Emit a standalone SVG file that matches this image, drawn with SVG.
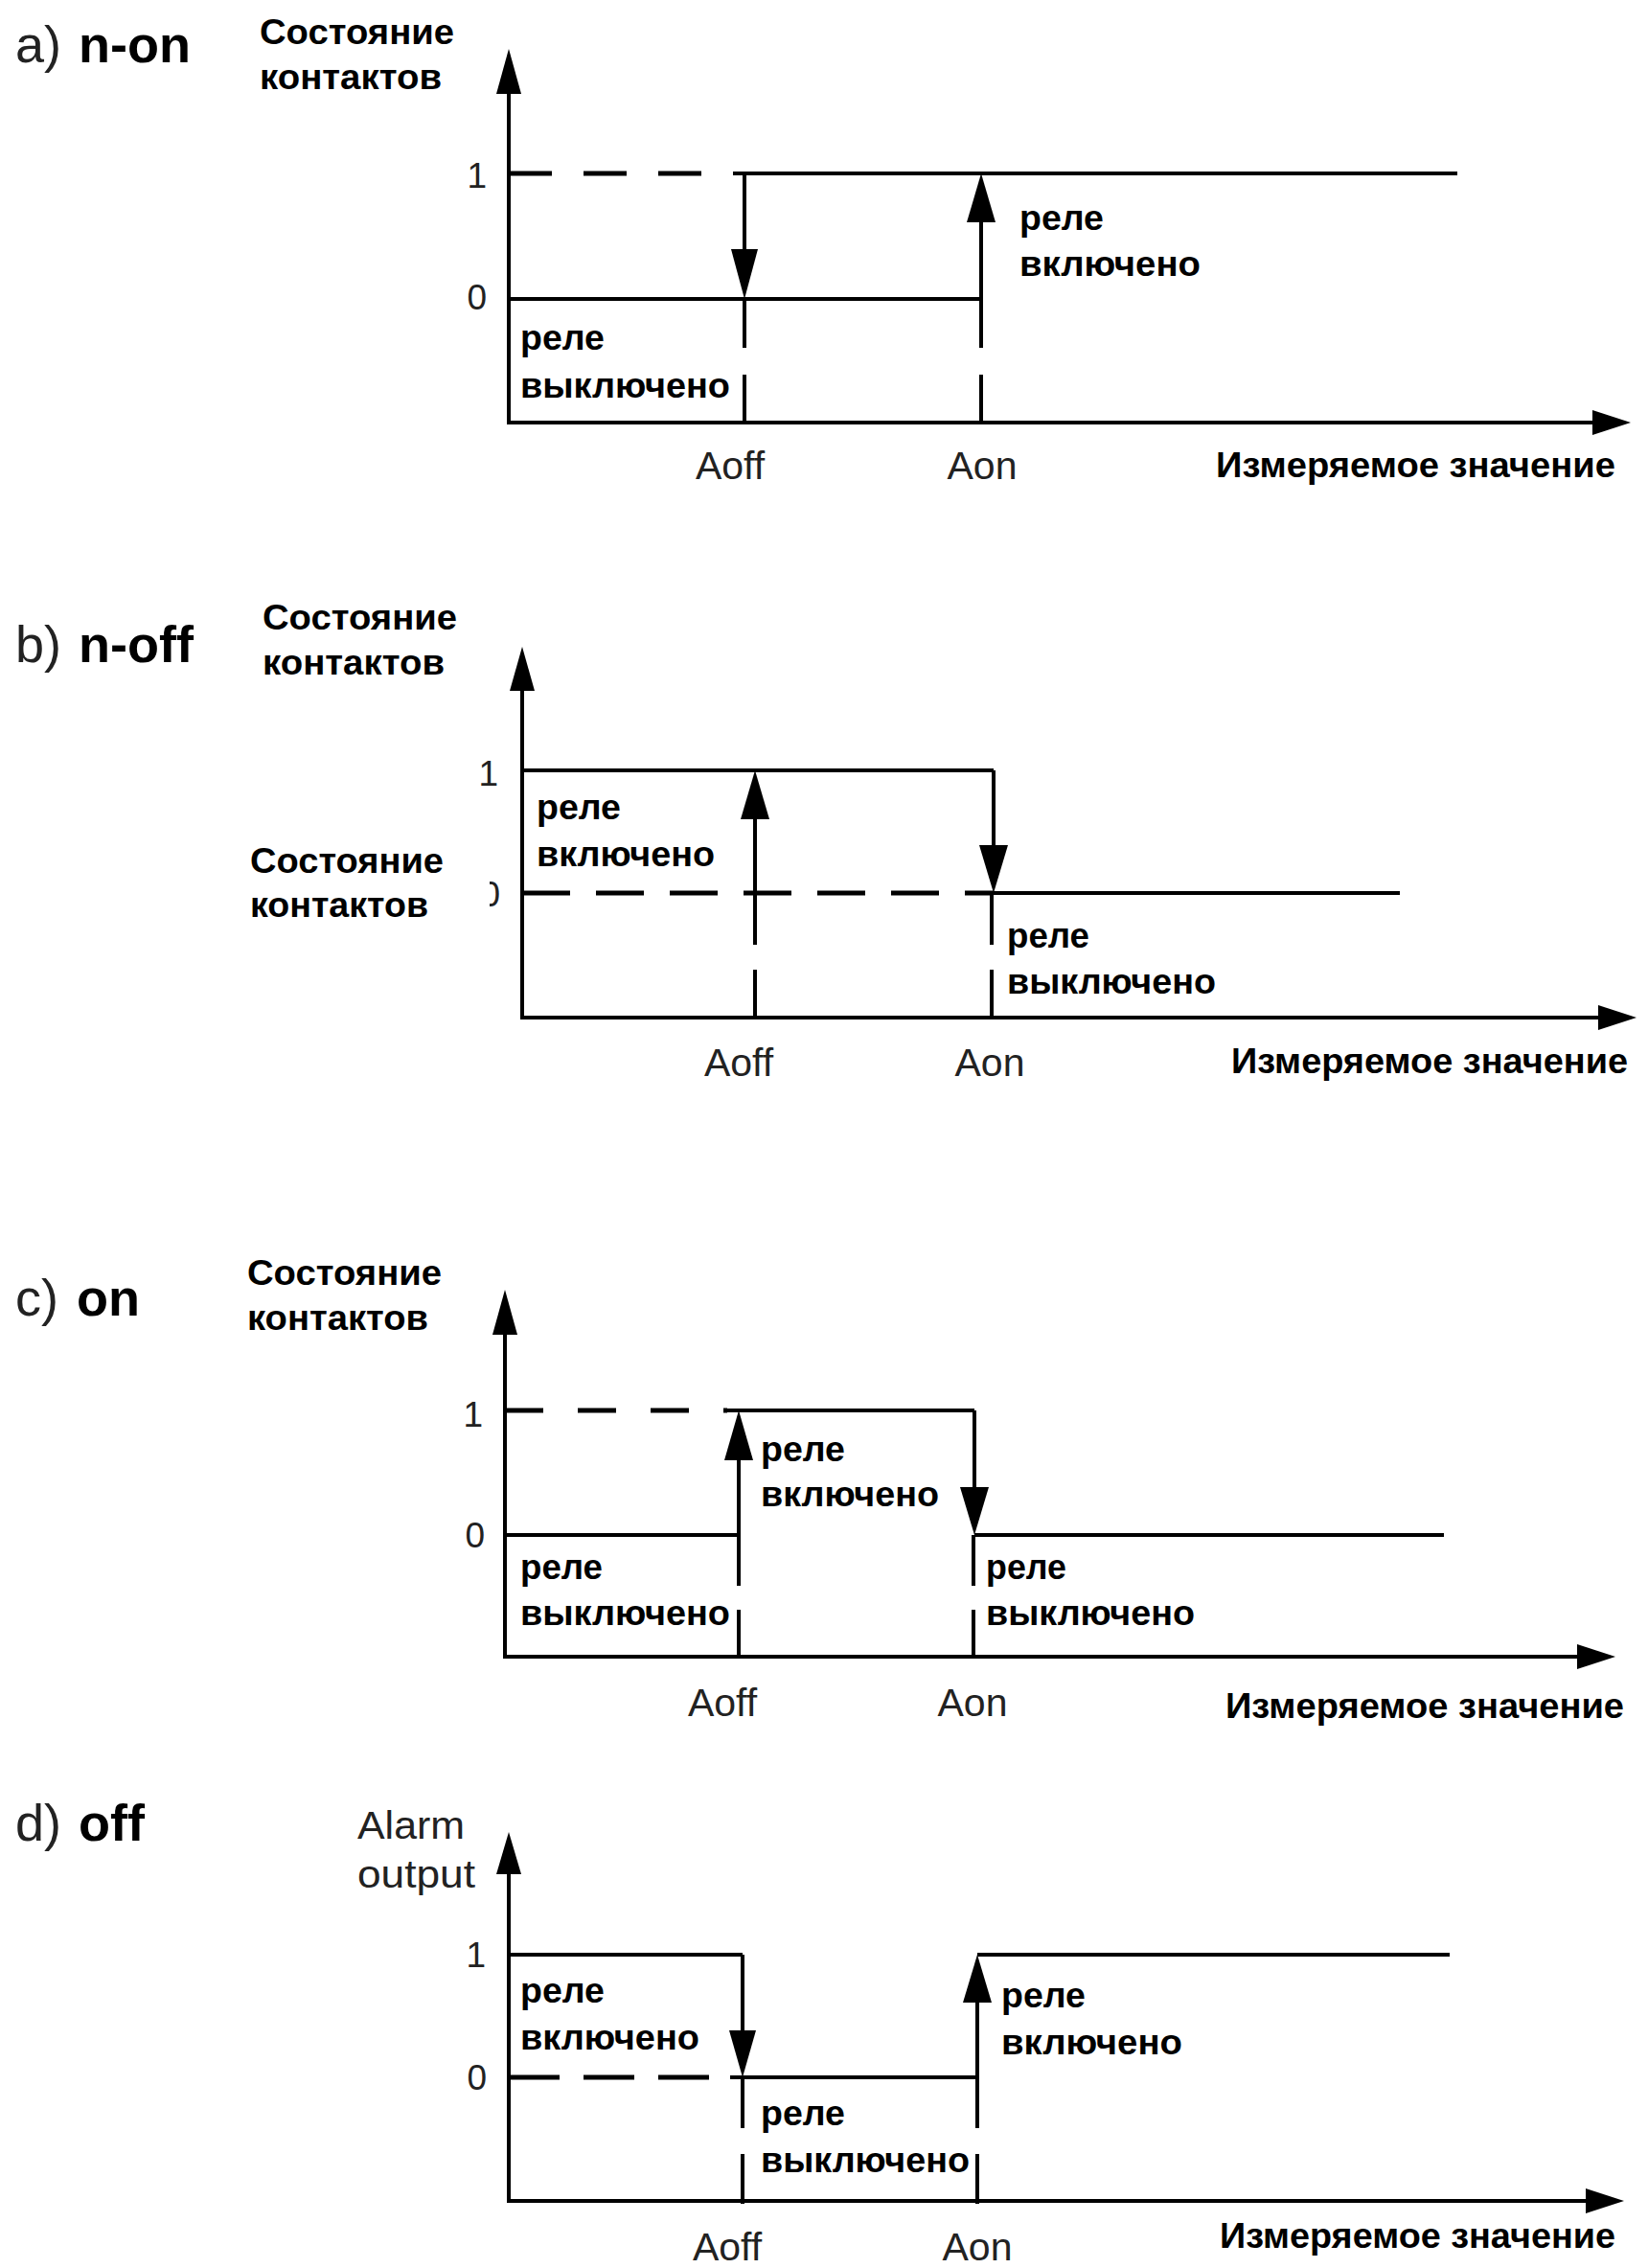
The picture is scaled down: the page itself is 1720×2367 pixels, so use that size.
<svg xmlns="http://www.w3.org/2000/svg" width="1720" height="2367" viewBox="0 0 1720 2367">
<style>
  .ln{stroke:#000;stroke-width:4;fill:none}
  .dl{stroke:#000;stroke-width:5;fill:none}
  .hd{fill:#000;stroke:none}
  .b{font-family:"Liberation Sans",Arial,sans-serif;font-weight:bold;font-size:37px;fill:#000}
  .r{font-family:"Liberation Sans",Arial,sans-serif;font-size:41px;fill:#222}
  .n{font-family:"Liberation Sans",Arial,sans-serif;font-size:37px;fill:#222}
  .t{font-family:"Liberation Sans",Arial,sans-serif;font-size:54px;fill:#222}
  .tb{font-weight:bold;fill:#000}
</style>
<defs>
  <clipPath id="halfzero"><rect x="511" y="900" width="30" height="60"/></clipPath>
</defs>
<rect width="1720" height="2367" fill="#fff"/>

<!-- Panel a -->
<g id="panel-a">
  <text class="t" x="16" y="65">a)<tspan class="tb" x="82">n-on</tspan></text>
  <text class="b" x="271" y="46" textLength="203" lengthAdjust="spacingAndGlyphs">Состояние</text>
  <text class="b" x="271" y="93" textLength="190" lengthAdjust="spacingAndGlyphs">контактов</text>
  <text class="n" x="508" y="196" text-anchor="end">1</text>
  <text class="n" x="508" y="323" text-anchor="end">0</text>
  <text class="b" x="543" y="365" textLength="88" lengthAdjust="spacingAndGlyphs">реле</text>
  <text class="b" x="543" y="415" textLength="219" lengthAdjust="spacingAndGlyphs">выключено</text>
  <text class="b" x="1064" y="240" textLength="88" lengthAdjust="spacingAndGlyphs">реле</text>
  <text class="b" x="1064" y="288" textLength="189" lengthAdjust="spacingAndGlyphs">включено</text>
  <text class="r" x="762" y="500" text-anchor="middle">Aoff</text>
  <text class="r" x="1025" y="500" text-anchor="middle">Aon</text>
  <text class="b" x="1269" y="498" textLength="417" lengthAdjust="spacingAndGlyphs">Измеряемое значение</text>
</g>

<!-- Panel b -->
<g id="panel-b">
  <text class="t" x="16" y="691">b)<tspan class="tb" x="82">n-off</tspan></text>
  <text class="b" x="274" y="657" textLength="203" lengthAdjust="spacingAndGlyphs">Состояние</text>
  <text class="b" x="274" y="704" textLength="190" lengthAdjust="spacingAndGlyphs">контактов</text>
  <text class="b" x="261" y="911" textLength="202" lengthAdjust="spacingAndGlyphs">Состояние</text>
  <text class="b" x="261" y="957" textLength="186" lengthAdjust="spacingAndGlyphs">контактов</text>
  <text class="n" x="520" y="820" text-anchor="end">1</text>
  <text class="n" x="522" y="946" text-anchor="end" clip-path="url(#halfzero)">0</text>
  <text class="b" x="560" y="855" textLength="88" lengthAdjust="spacingAndGlyphs">реле</text>
  <text class="b" x="560" y="904" textLength="186" lengthAdjust="spacingAndGlyphs">включено</text>
  <text class="b" x="1051" y="989" textLength="86" lengthAdjust="spacingAndGlyphs">реле</text>
  <text class="b" x="1051" y="1037" textLength="218" lengthAdjust="spacingAndGlyphs">выключено</text>
  <text class="r" x="771" y="1123" text-anchor="middle">Aoff</text>
  <text class="r" x="1033" y="1123" text-anchor="middle">Aon</text>
  <text class="b" x="1285" y="1120" textLength="414" lengthAdjust="spacingAndGlyphs">Измеряемое значение</text>
</g>

<!-- Panel c -->
<g id="panel-c">
  <text class="t" x="16" y="1373">c)<tspan class="tb" x="80">on</tspan></text>
  <text class="b" x="258" y="1341" textLength="203" lengthAdjust="spacingAndGlyphs">Состояние</text>
  <text class="b" x="258" y="1388" textLength="189" lengthAdjust="spacingAndGlyphs">контактов</text>
  <text class="n" x="504" y="1489" text-anchor="end">1</text>
  <text class="n" x="506" y="1615" text-anchor="end">0</text>
  <text class="b" x="794" y="1525" textLength="88" lengthAdjust="spacingAndGlyphs">реле</text>
  <text class="b" x="794" y="1572" textLength="186" lengthAdjust="spacingAndGlyphs">включено</text>
  <text class="b" x="543" y="1648" textLength="86" lengthAdjust="spacingAndGlyphs">реле</text>
  <text class="b" x="543" y="1696" textLength="219" lengthAdjust="spacingAndGlyphs">выключено</text>
  <text class="b" x="1029" y="1648" textLength="84" lengthAdjust="spacingAndGlyphs">реле</text>
  <text class="b" x="1029" y="1696" textLength="218" lengthAdjust="spacingAndGlyphs">выключено</text>
  <text class="r" x="754" y="1791" text-anchor="middle">Aoff</text>
  <text class="r" x="1015" y="1791" text-anchor="middle">Aon</text>
  <text class="b" x="1279" y="1793" textLength="416" lengthAdjust="spacingAndGlyphs">Измеряемое значение</text>
</g>

<!-- Panel d -->
<g id="panel-d">
  <text class="t" x="16" y="1921">d)<tspan class="tb" x="82">off</tspan></text>
  <text class="r" x="373" y="1919" textLength="112" lengthAdjust="spacingAndGlyphs">Alarm</text>
  <text class="r" x="373" y="1970" textLength="123" lengthAdjust="spacingAndGlyphs">output</text>
  <text class="n" x="507" y="2053" text-anchor="end">1</text>
  <text class="n" x="508" y="2181" text-anchor="end">0</text>
  <text class="b" x="543" y="2090" textLength="88" lengthAdjust="spacingAndGlyphs">реле</text>
  <text class="b" x="543" y="2139" textLength="187" lengthAdjust="spacingAndGlyphs">включено</text>
  <text class="b" x="794" y="2218" textLength="88" lengthAdjust="spacingAndGlyphs">реле</text>
  <text class="b" x="794" y="2267" textLength="218" lengthAdjust="spacingAndGlyphs">выключено</text>
  <text class="b" x="1045" y="2095" textLength="88" lengthAdjust="spacingAndGlyphs">реле</text>
  <text class="b" x="1045" y="2144" textLength="189" lengthAdjust="spacingAndGlyphs">включено</text>
  <text class="r" x="759" y="2359" text-anchor="middle">Aoff</text>
  <text class="r" x="1020" y="2359" text-anchor="middle">Aon</text>
  <text class="b" x="1273" y="2346" textLength="413" lengthAdjust="spacingAndGlyphs">Измеряемое значение</text>
</g>

<!-- Connectors: axes, levels, transitions -->
<g id="connectors">
  <!-- a -->
  <path class="ln" d="M531 441 V95"/>
  <polygon class="hd" points="531,51 518,98 544,98"/>
  <path class="ln" d="M529 441 H1665"/>
  <polygon class="hd" points="1702,441 1662,428 1662,454"/>
  <path class="dl" d="M531 181 H765" stroke-dasharray="45 33"/>
  <path class="ln" d="M765 181 H1521"/>
  <path class="ln" d="M531 312 H1024"/>
  <path class="ln" d="M777 181 V265"/>
  <polygon class="hd" points="777,312 763,260 791,260"/>
  <path class="ln" d="M1024 312 V228"/>
  <polygon class="hd" points="1024,181 1009,232 1039,232"/>
  <path class="ln" d="M777 312 V363 M777 391 V441 M1024 312 V363 M1024 391 V441"/>

  <!-- b -->
  <path class="ln" d="M545 1062 V718"/>
  <polygon class="hd" points="545,675 532,721 558,721"/>
  <path class="ln" d="M543 1062 H1672"/>
  <polygon class="hd" points="1708,1062 1668,1049 1668,1075"/>
  <path class="ln" d="M545 804 H1037"/>
  <path class="dl" d="M545 932 H1037" stroke-dasharray="50 27"/>
  <path class="ln" d="M1037 932 H1461"/>
  <path class="ln" d="M788 932 V850"/>
  <polygon class="hd" points="788,804 773,855 803,855"/>
  <path class="ln" d="M1037 804 V886"/>
  <polygon class="hd" points="1037,932 1022,882 1052,882"/>
  <path class="ln" d="M788 932 V986 M788 1012 V1062 M1035 932 V986 M1035 1012 V1062"/>

  <!-- c -->
  <path class="ln" d="M527 1729 V1390"/>
  <polygon class="hd" points="527,1346 514,1393 540,1393"/>
  <path class="ln" d="M525 1729 H1650"/>
  <polygon class="hd" points="1686,1729 1646,1716 1646,1742"/>
  <path class="dl" d="M527 1472 H759" stroke-dasharray="40 36"/>
  <path class="ln" d="M759 1472 H1017"/>
  <path class="ln" d="M527 1602 H771"/>
  <path class="ln" d="M1017 1602 H1507"/>
  <path class="ln" d="M771 1602 V1520"/>
  <polygon class="hd" points="771,1472 756,1524 786,1524"/>
  <path class="ln" d="M1017 1472 V1556"/>
  <polygon class="hd" points="1017,1602 1002,1552 1032,1552"/>
  <path class="ln" d="M771 1602 V1655 M771 1680 V1731 M1016 1602 V1655 M1016 1680 V1731"/>

  <!-- d -->
  <path class="ln" d="M531 2297 V1954"/>
  <polygon class="hd" points="531,1912 518,1956 544,1956"/>
  <path class="ln" d="M529 2297 H1659"/>
  <polygon class="hd" points="1695,2297 1655,2284 1655,2310"/>
  <path class="ln" d="M531 2040 H775"/>
  <path class="ln" d="M1020 2040 H1513"/>
  <path class="dl" d="M531 2168 H762" stroke-dasharray="53 25"/>
  <path class="ln" d="M762 2168 H1020"/>
  <path class="ln" d="M775 2040 V2122"/>
  <polygon class="hd" points="775,2168 761,2119 789,2119"/>
  <path class="ln" d="M1020 2168 V2086"/>
  <polygon class="hd" points="1020,2040 1005,2090 1035,2090"/>
  <path class="ln" d="M775 2168 V2221 M775 2248 V2300 M1020 2168 V2221 M1020 2248 V2300"/>
</g>
</svg>
